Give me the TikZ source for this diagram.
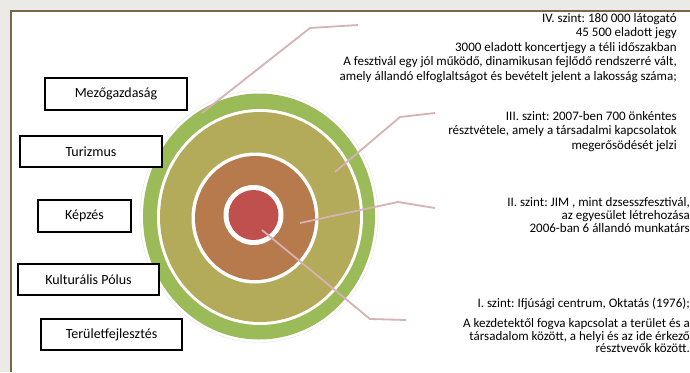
\documentclass[tikz,border=0pt]{standalone}
\usepackage{fontspec}
\setmainfont{Carlito}
\frenchspacing
\definecolor{framegray}{RGB}{236,234,230}
\definecolor{framebrown}{RGB}{120,104,70}
\definecolor{ringgreen}{RGB}{155,187,89}
\definecolor{ringolive}{RGB}{179,170,90}
\definecolor{ringbrown}{RGB}{182,122,77}
\definecolor{ringred}{RGB}{192,80,77}
\definecolor{leadpink}{RGB}{214,178,178}
\newcommand\tightlines{\lineskiplimit=-20pt\relax}
\begin{document}
\begin{tikzpicture}[x=1pt,y=-1pt,
  box/.style={draw=black,line width=1.3pt,fill=white,inner sep=0pt,font=\fontsize{14}{16}\selectfont},
  leader/.style={leadpink,line width=1.8pt},
  szint/.style={anchor=north east,inner sep=0pt,align=right,font=\fontsize{13}{14.5}\selectfont}]

\useasboundingbox (0,0) rectangle (690,372) ;
\fill [framegray] (0,0) rectangle (690,372) ;
\fill [white] (11,11) rectangle (690,372) ;
\draw [framebrown,line width=2pt] (11,372) -- (11,11) -- (690,11) ;

\filldraw [fill=white,draw=black!10] (259,216.5) ellipse [x radius=119,y radius=126] ;
\fill [ringgreen] (259,216.5) ellipse [x radius=116,y radius=123] ;
\fill [white] (260,217) ellipse [x radius=103,y radius=108] ;
\fill [ringolive] (260,217) ellipse [x radius=100,y radius=105] ;
\fill [white] (255,218) ellipse [x radius=63.5,y radius=65.5] ;
\fill [ringbrown] (255,218) ellipse [x radius=60,y radius=62] ;
\fill [white] (253.5,215) ellipse [x radius=30,y radius=30] ;
\fill [ringred] (253.5,215) ellipse [x radius=25,y radius=25] ;

\node [box,minimum width=142,minimum height=32] (mezo) at (116,94) {Mezőgazdaság} ;
\node [box,minimum width=142,minimum height=31] (turiz) at (91,151.5) {Turizmus} ;
\node [box,minimum width=93,minimum height=32] (kepzes) at (84.5,216) {Képzés} ;
\node [box,minimum width=141,minimum height=31] (kultur) at (88.5,279.5) {Kulturális Pólus} ;
\node [box,minimum width=141,minimum height=31] (terulet) at (111.5,334.5) {Területfejlesztés} ;

\node [szint] (lvl4) at (677,13) {IV. szint: 180 000 látogató\\45 500 eladott jegy\\3000 eladott koncertjegy a téli időszakban\\A fesztivál egy jól működő, dinamikusan fejlődő rendszerré vált,\\amely állandó elfoglaltságot és bevételt jelent a lakosság száma;} ;
\node [szint] (lvl3) at (677,111) {III. szint: 2007-ben 700 önkéntes\\résztvétele, amely a társadalmi kapcsolatok\\megerősödését jelzi} ;
\node [szint,font=\fontsize{13}{13.3}\selectfont] (lvl2) at (690,197) {II. szint: JIM , mint dzsesszfesztivál,\\az egyesület létrehozása\\2006-ban 6 állandó munkatárs} ;
\node [szint,font=\fontsize{13}{12.5}\selectfont\tightlines] (lvl1) at (690,298) {I. szint: Ifjúsági centrum, Oktatás (1976);\\[7.5pt]A kezdetektől fogva kapcsolat a terület és a\\társadalom között, a helyi és az ide érkező\\résztvevők között.} ;

\coordinate (g4) at (202,113) ;
\coordinate (k4) at (310,28) ;
\coordinate (e4) at (358,25) ;
\coordinate (g3) at (335,172) ;
\coordinate (k3) at (400,117) ;
\coordinate (e3) at (435,113) ;
\coordinate (g2) at (300,223) ;
\coordinate (k2) at (398,202) ;
\coordinate (e2) at (435,208) ;
\coordinate (g1) at (262,230) ;
\coordinate (k1) at (370,319) ;
\coordinate (e1) at (406,320) ;
\draw [leader] (g4) -- (k4) -- (e4) ;
\draw [leader] (g3) -- (k3) -- (e3) ;
\draw [leader] (g2) -- (k2) -- (e2) ;
\draw [leader] (g1) -- (k1) -- (e1) ;
\end{tikzpicture}
\end{document}
